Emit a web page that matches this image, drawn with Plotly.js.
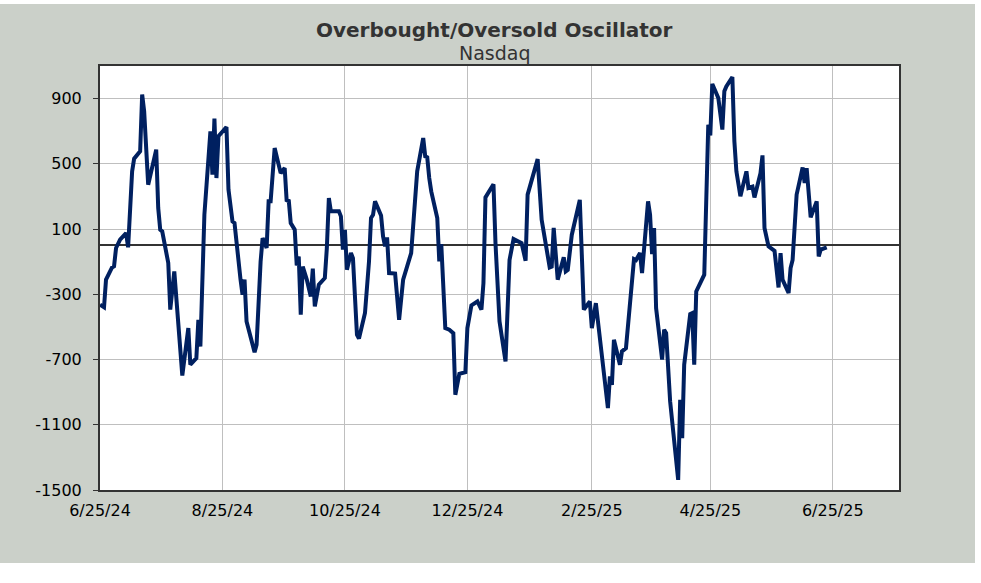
<!DOCTYPE html>
<html>
<head>
<meta charset="utf-8">
<script src="https://cdn.plot.ly/plotly-3.0.1.min.js"></script>
<style>
  html, body { margin: 0; padding: 0; background: #ffffff; width: 981px; height: 583px; overflow: hidden; }
  #chart { position: absolute; left: 0; top: 4px; width: 975px; height: 559px; }
</style>
</head>
<body>
<div id="chart"></div>
<script>
// Dates of the plotted points
const dates = [
  "2024-06-25","2024-06-27","2024-06-28","2024-07-01","2024-07-02","2024-07-03","2024-07-05","2024-07-08","2024-07-09","2024-07-11",
  "2024-07-12","2024-07-15","2024-07-16","2024-07-17","2024-07-19","2024-07-23","2024-07-24","2024-07-25","2024-07-26","2024-07-29",
  "2024-07-30","2024-08-01","2024-08-05","2024-08-08","2024-08-09","2024-08-12","2024-08-13","2024-08-14","2024-08-16","2024-08-19",
  "2024-08-20","2024-08-21","2024-08-22","2024-08-23","2024-08-27","2024-08-28","2024-08-30","2024-08-31","2024-09-03","2024-09-04",
  "2024-09-05","2024-09-06","2024-09-10","2024-09-11","2024-09-13","2024-09-14","2024-09-16","2024-09-17","2024-09-18","2024-09-20",
  "2024-09-23","2024-09-25","2024-09-26","2024-09-27","2024-09-28","2024-09-30","2024-10-01","2024-10-02","2024-10-03","2024-10-04",
  "2024-10-06","2024-10-08","2024-10-09","2024-10-10","2024-10-12","2024-10-15","2024-10-16","2024-10-17","2024-10-18","2024-10-22",
  "2024-10-23","2024-10-24","2024-10-25","2024-10-26","2024-10-27","2024-10-28","2024-10-29","2024-10-30","2024-10-31","2024-11-01",
  "2024-11-04","2024-11-06","2024-11-07","2024-11-08","2024-11-09","2024-11-12","2024-11-13","2024-11-14","2024-11-15","2024-11-16",
  "2024-11-19","2024-11-21","2024-11-23","2024-11-25","2024-11-27","2024-11-30","2024-12-03","2024-12-04","2024-12-05","2024-12-06",
  "2024-12-07","2024-12-10","2024-12-11","2024-12-12","2024-12-14","2024-12-16","2024-12-18","2024-12-19","2024-12-21","2024-12-24",
  "2024-12-25","2024-12-27","2024-12-30","2025-01-01","2025-01-02","2025-01-03","2025-01-07","2025-01-08","2025-01-10","2025-01-13",
  "2025-01-15","2025-01-17","2025-01-21","2025-01-23","2025-01-24","2025-01-29","2025-01-31","2025-02-04","2025-02-05","2025-02-06",
  "2025-02-08","2025-02-11","2025-02-12","2025-02-13","2025-02-15","2025-02-19","2025-02-21","2025-02-24","2025-02-25","2025-02-27",
  "2025-03-05","2025-03-06","2025-03-07","2025-03-08","2025-03-11","2025-03-12","2025-03-14","2025-03-18","2025-03-19","2025-03-21",
  "2025-03-22","2025-03-25","2025-03-26","2025-03-27","2025-03-28","2025-03-29","2025-04-01","2025-04-02","2025-04-03","2025-04-05",
  "2025-04-09","2025-04-10","2025-04-11","2025-04-12","2025-04-15","2025-04-16","2025-04-17","2025-04-18","2025-04-22","2025-04-24",
  "2025-04-25","2025-04-26","2025-04-29","2025-05-01","2025-05-02","2025-05-03","2025-05-06","2025-05-07","2025-05-08","2025-05-10",
  "2025-05-13","2025-05-14","2025-05-16","2025-05-17","2025-05-20","2025-05-21","2025-05-22","2025-05-24","2025-05-27","2025-05-29",
  "2025-05-30","2025-05-31","2025-06-03","2025-06-04","2025-06-05","2025-06-07","2025-06-10","2025-06-11","2025-06-12","2025-06-14",
  "2025-06-17","2025-06-18","2025-06-19","2025-06-22"
];

// Oscillator values
const oscillator = [
  -364,-380,-210,-135,-128,-16,35,75,-12,454,
  532,577,925,822,372,587,229,96,86,-108,
  -394,-160,-798,-507,-732,-691,-456,-620,188,699,
  434,777,413,669,726,342,147,137,-210,-302,
  -210,-466,-655,-609,-100,45,-16,270,270,597,
  443,474,270,280,137,96,-123,-68,-425,-130,
  -210,-313,-143,-374,-241,-200,-16,290,209,209,
  178,-26,96,-149,-98,-47,-78,-302,-548,-572,
  -415,-98,168,188,270,184,55,-6,49,-170,
  -173,-456,-210,-129,-47,454,658,546,540,413,
  331,168,-98,8,-507,-517,-538,-916,-787,-777,
  -507,-368,-344,-394,-231,294,375,14,-466,-712,
  -89,39,14,-94,311,529,157,-135,-130,107,
  -210,-73,-159,-150,64,279,-394,-344,-507,-354,
  -998,-804,-855,-579,-732,-650,-630,-84,-90,-47,
  -170,270,188,-53,107,-384,-700,-517,-538,-957,
  -1438,-947,-1182,-732,-421,-415,-732,-282,-180,740,
  675,990,904,710,945,975,1032,638,454,301,
  454,352,360,294,443,552,107,-6,-33,-258,
  -47,-210,-292,-139,-89,311,478,382,474,172,
  270,-68,-26,-12
];

// Axis ticks
const xTickVals = ["2024-06-25","2024-08-25","2024-10-25","2024-12-25","2025-02-25","2025-04-25","2025-06-25"];
const xTickText = ["6/25/24","8/25/24","10/25/24","12/25/24","2/25/25","4/25/25","6/25/25"];
const yTickVals = [-1500,-1100,-700,-300,100,500,900];
const yTickText = ["-1500","-1100","-700","-300","100","500","900"];

const chartTitle = "Overbought/Oversold Oscillator";
const chartSubtitle = "Nasdaq";

const fontFamily = "DejaVu Sans, Verdana, sans-serif";

const trace = {
  x: dates,
  y: oscillator,
  type: "scatter",
  mode: "lines",
  line: { color: "#002060", width: 4 },
  hoverinfo: "x+y"
};

const layout = {
  width: 975,
  height: 559,
  paper_bgcolor: "#cbd0c9",
  plot_bgcolor: "#ffffff",
  margin: { l: 100, r: 76, t: 62, b: 73, pad: 0 },
  showlegend: false,
  font: { family: fontFamily, size: 16, color: "#000000" },
  xaxis: {
    type: "date",
    range: ["2024-06-25", "2025-07-28"],
    tickmode: "array",
    tickvals: xTickVals,
    ticktext: xTickText,
    ticks: "",
    showgrid: true,
    gridcolor: "#bfbfbf",
    gridwidth: 1,
    showline: true,
    linecolor: "#333333",
    linewidth: 2,
    mirror: true,
    zeroline: false,
    tickfont: { family: fontFamily, size: 16, color: "#000000" },
    ticklabelstandoff: 5
  },
  yaxis: {
    range: [-1500, 1100],
    tickmode: "array",
    tickvals: yTickVals,
    ticktext: yTickText,
    ticks: "outside",
    ticklen: 5,
    tickwidth: 1,
    tickcolor: "#333333",
    showgrid: true,
    gridcolor: "#bfbfbf",
    gridwidth: 1,
    showline: true,
    linecolor: "#333333",
    linewidth: 2,
    mirror: true,
    zeroline: true,
    zerolinecolor: "#333333",
    zerolinewidth: 2,
    tickfont: { family: fontFamily, size: 16, color: "#000000" },
    ticklabelstandoff: 8
  },
  annotations: [
    {
      text: "<b>" + chartTitle + "</b>",
      xref: "paper", yref: "paper",
      x: 0.494, y: 1.085,
      xanchor: "center", yanchor: "middle",
      showarrow: false,
      font: { family: fontFamily, size: 20, color: "#333333" }
    },
    {
      text: chartSubtitle,
      xref: "paper", yref: "paper",
      x: 0.494, y: 1.031,
      xanchor: "center", yanchor: "middle",
      showarrow: false,
      font: { family: fontFamily, size: 19, color: "#333333" }
    }
  ]
};

Plotly.newPlot("chart", [trace], layout, { displayModeBar: false, staticPlot: true });
</script>
</body>
</html>
